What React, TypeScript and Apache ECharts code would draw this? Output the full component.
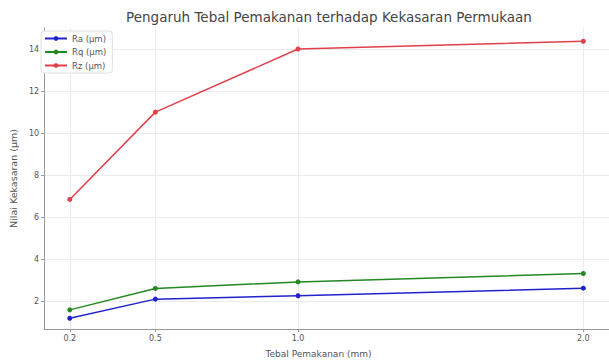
import React, { useEffect, useRef } from "react";
import * as echarts from "echarts";

const thickness = [0.2, 0.5, 1.0, 2.0];
const raValues = [1.2, 2.11, 2.27, 2.63];
const rqValues = [1.6, 2.62, 2.93, 3.33];
const rzValues = [6.85, 11.0, 14.0, 14.37];
const seriesNames = ["Ra (μm)", "Rq (μm)", "Rz (μm)"];
const xTicks = [0.2, 0.5, 1.0, 2.0];
const yTicks = [2, 4, 6, 8, 10, 12, 14];

export default function App() {
  const ref = useRef<HTMLDivElement>(null);
  useEffect(() => {
    if (!ref.current) return;
    const chart = echarts.init(ref.current, null, { renderer: "svg" });
    const font = "DejaVu Sans";
    const mk = (name: string, vals: number[], color: string) => ({
      name,
      type: "line",
      data: thickness.map((t, i) => [t, vals[i]]),
      symbol: "circle",
      symbolSize: 5,
      lineStyle: { color, width: 1.5 },
      itemStyle: { color },
    });
    chart.setOption({
      animation: false,
      backgroundColor: "#ffffff",
      textStyle: { fontFamily: font },
      title: {
        text: "Pengaruh Tebal Pemakanan terhadap Kekasaran Permukaan",
        left: 324,
        textAlign: "center",
        top: 5,
        textStyle: { fontFamily: font, fontSize: 13.5, fontWeight: "normal", color: "#444" },
      },
      legend: {
        orient: "vertical",
        left: 41,
        top: 31,
        itemWidth: 22,
        itemHeight: 6,
        itemGap: 4.5,
        padding: [3, 6, 3, 3],
        backgroundColor: "#ffffff",
        borderColor: "#e0e0e0",
        borderWidth: 1,
        borderRadius: 3,
        textStyle: { fontFamily: font, fontSize: 8.5, color: "#555" },
        data: seriesNames,
      },
      grid: { left: 38, right: 0, top: 28, bottom: 30 },
      xAxis: {
        type: "value",
        min: 0.11,
        max: 2.09,
        name: "Tebal Pemakanan (mm)",
        nameLocation: "middle",
        nameGap: 20,
        nameTextStyle: { fontFamily: font, fontSize: 9, color: "#555", padding: [0, 16, 0, 0] },
        axisLine: { lineStyle: { color: "#999", width: 1 } },
        axisTick: { show: true, customValues: xTicks, length: 3, lineStyle: { color: "#999" } },
        axisLabel: {
          customValues: xTicks,
          fontSize: 8,
          color: "#555",
          margin: 5,
          formatter: (v: number) => v.toFixed(1),
        },
        splitLine: { show: true, lineStyle: { color: "#ebebeb", width: 1 } },
      },
      yAxis: {
        type: "value",
        min: 0.69,
        max: 15.0,
        name: "Nilai Kekasaran (μm)",
        nameLocation: "middle",
        nameGap: 24,
        nameTextStyle: { fontFamily: font, fontSize: 9.5, color: "#555" },
        axisLine: { show: true, lineStyle: { color: "#999", width: 1 } },
        axisTick: { show: true, customValues: yTicks, length: 3, lineStyle: { color: "#999" } },
        axisLabel: {
          customValues: yTicks,
          fontSize: 8,
          color: "#555",
          margin: 5,
        },
        splitLine: { show: true, lineStyle: { color: "#ebebeb", width: 1 } },
      },
      series: [
        mk(seriesNames[0], raValues, "#2222cc"),
        mk(seriesNames[1], rqValues, "#228822"),
        mk(seriesNames[2], rzValues, "#e0404a"),
      ],
    });
    return () => chart.dispose();
  }, []);
  return <div ref={ref} style={{ width: 609, height: 363, position: "absolute", left: 0, top: 0 }} />;
}
